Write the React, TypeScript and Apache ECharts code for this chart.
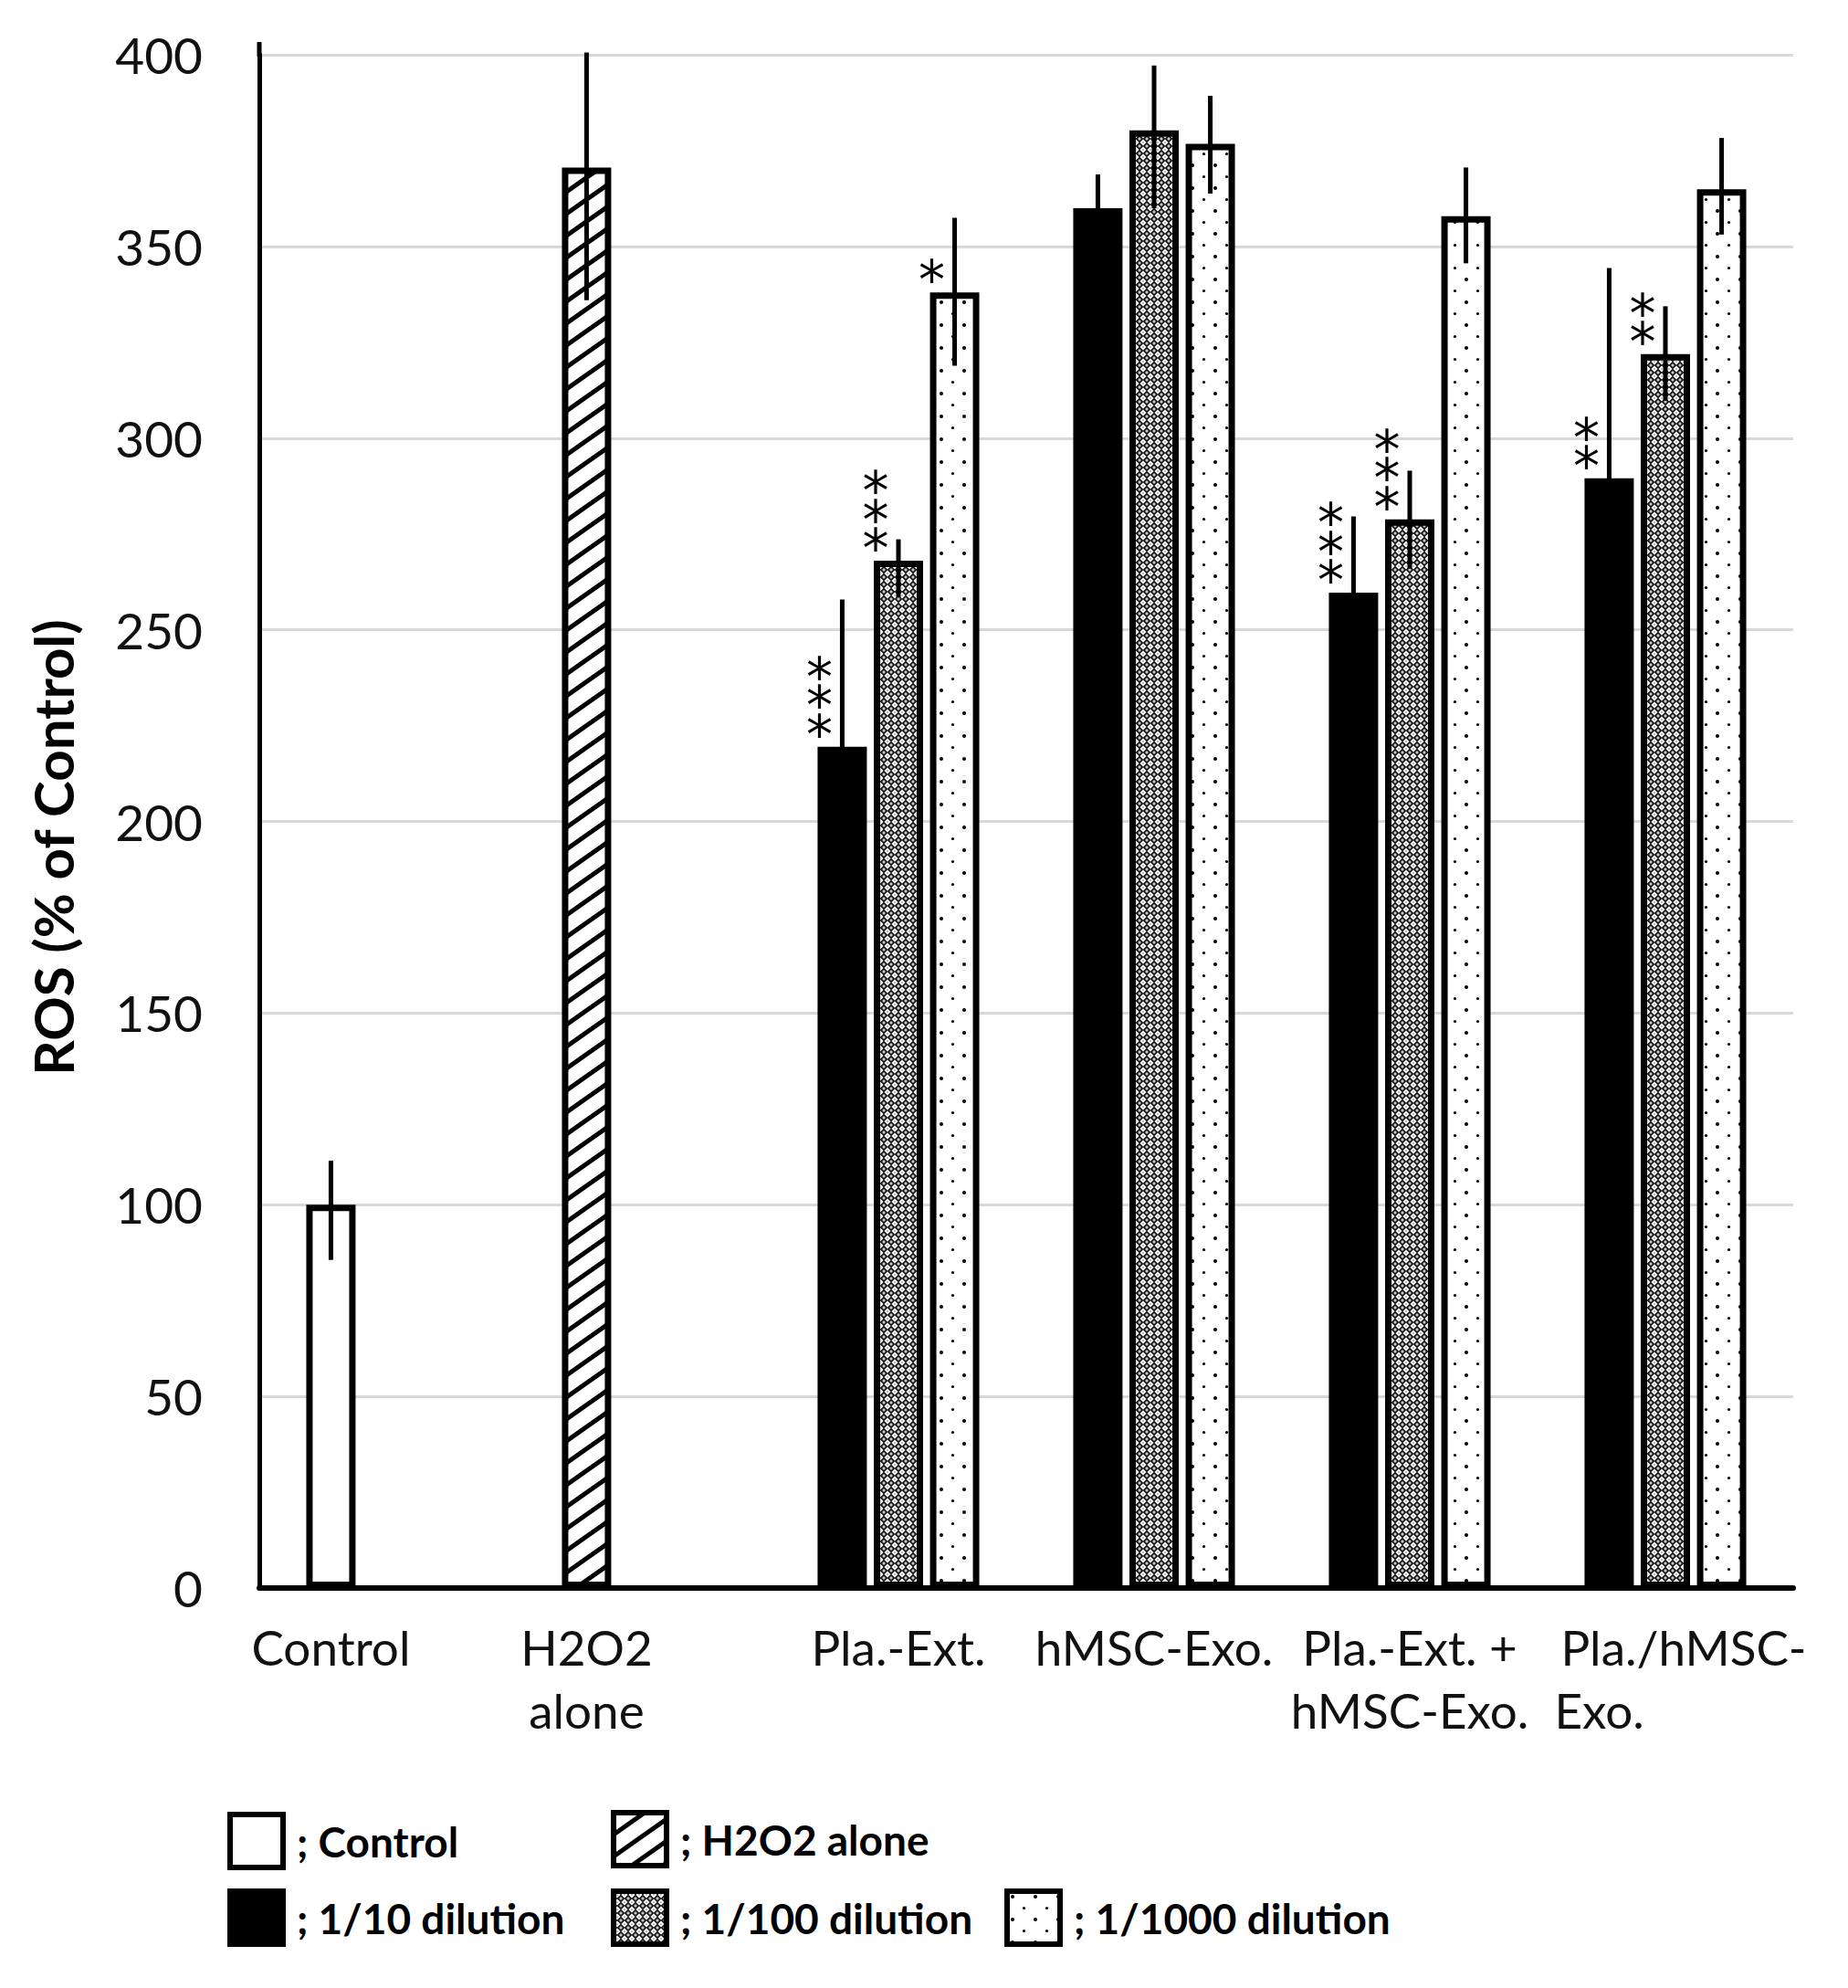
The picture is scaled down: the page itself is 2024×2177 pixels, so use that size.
import React, { useEffect, useRef } from 'react';
import * as echarts from 'echarts';

// ---------- data ----------
const categories = ['Control', 'H2O2\nalone', 'Pla.-Ext.', 'hMSC-Exo.', 'Pla.-Ext. +\nhMSC-Exo.', 'Pla./hMSC-\nExo.'];
const seriesNames = ['Control', 'H2O2 alone', '1/10 dilution', '1/100 dilution', '1/1000 dilution'];

const controlValues = [100, null, null, null, null, null];
const h2o2Values = [null, 370.6, null, null, null, null];
const dil10Values = [null, null, 219.5, 360, 259.7, 289.5];
const dil100Values = [null, null, 268, 380.3, 278.8, 321.9];
const dil1000Values = [null, null, 338, 376.8, 357.9, 364.9];

const controlErrHigh = [111.5, null, null, null, null, null];
const controlErrLow = [85.6, null, null, null, null, null];
const h2o2ErrHigh = [null, 400.6, null, null, null, null];
const h2o2ErrLow = [null, 336, null, null, null, null];
const dil10ErrHigh = [null, null, 257.9, 368.8, 279.6, 344.4];
const dil10ErrLow = [null, null, 181.1, 351.2, 239.8, 234.6];
const dil100ErrHigh = [null, null, 273.6, 397.2, 291.5, 334.4];
const dil100ErrLow = [null, null, 258.5, 359.9, 266, 309.8];
const dil1000ErrHigh = [null, null, 357.5, 389.3, 370.6, 378.3];
const dil1000ErrLow = [null, null, 318.9, 363.8, 345.6, 353.1];

const dil10Marks = ['', '', '***', '', '***', '**'];
const dil100Marks = ['', '', '***', '', '***', '**'];
const dil1000Marks = ['', '', '*', '', '', ''];

const yMin = 0;
const yMax = 400;
const yInterval = 50;

// ---------- style constants ----------
const FONT = 'Lato';
const BAR_W = 54;
const BAR_GAP = 0.14;
const PITCH = BAR_W * (1 + BAR_GAP);
const BORDER = 7;

function makeCanvas(w: number, h: number, draw: (ctx: CanvasRenderingContext2D) => void) {
  const c = document.createElement('canvas');
  c.width = w;
  c.height = h;
  const ctx = c.getContext('2d') as CanvasRenderingContext2D;
  draw(ctx);
  return c;
}

function hatchPattern() {
  const w = 34, h = 24;
  const c = makeCanvas(w, h, (ctx) => {
    ctx.fillStyle = '#fff';
    ctx.fillRect(0, 0, w, h);
    ctx.strokeStyle = '#000';
    ctx.lineWidth = 5;
    for (let k = -1; k <= 1; k++) {
      ctx.beginPath();
      ctx.moveTo(-w, (1 + k) * h + h);
      ctx.lineTo(2 * w, (1 + k) * h - 2 * h);
      ctx.stroke();
    }
  });
  return { image: c, repeat: 'repeat', imageWidth: w, imageHeight: h } as any;
}

function crossPattern() {
  const s = 8;
  const c = makeCanvas(s, s, (ctx) => {
    ctx.fillStyle = '#1a1a1a';
    ctx.fillRect(0, 0, s, s);
    ctx.fillStyle = '#fff';
    // white diamond in the middle
    ctx.beginPath();
    ctx.moveTo(4, 0.5);
    ctx.lineTo(7.5, 4);
    ctx.lineTo(4, 7.5);
    ctx.lineTo(0.5, 4);
    ctx.closePath();
    ctx.fill();
    // small dark centre
    ctx.fillStyle = '#000';
    ctx.fillRect(3.5, 3.5, 1.0, 1.0);
    // white plus at the corners
    ctx.fillStyle = '#fff';
    const arm = 1.7, t = 0.5;
    [[0, 0], [s, 0], [0, s], [s, s]].forEach(([cx, cy]) => {
      ctx.fillRect(cx - arm, cy - t, arm * 2, t * 2);
      ctx.fillRect(cx - t, cy - arm, t * 2, arm * 2);
    });
  });
  return { image: c, repeat: 'repeat', imageWidth: s, imageHeight: s } as any;
}

function dotPattern() {
  const w = 25, h = 25;
  const c = makeCanvas(w, h, (ctx) => {
    ctx.fillStyle = '#fff';
    ctx.fillRect(0, 0, w, h);
    ctx.fillStyle = '#000';
    ctx.beginPath();
    ctx.arc(6, 6, 2, 0, Math.PI * 2);
    ctx.fill();
    ctx.beginPath();
    ctx.arc(18.5, 18.5, 1.6, 0, Math.PI * 2);
    ctx.fill();
  });
  return { image: c, repeat: 'repeat', imageWidth: w, imageHeight: h } as any;
}

function starLabel(marks: string[]) {
  return {
    show: true,
    position: 'top',
    distance: 0,
    offset: [-25, 3],
    fontFamily: 'DejaVu Sans',
    fontSize: 58,
    lineHeight: 31.5,
    color: '#000',
    align: 'center',
    formatter: (p: any) => (marks[p.dataIndex] || '').split('').join('\n'),
  };
}

export default function App() {
  const ref = useRef<HTMLDivElement>(null);

  useEffect(() => {
    if (!ref.current) return;
    const chart = echarts.init(ref.current, null, { renderer: 'svg' });

    const fills = {
      control: '#fff',
      h2o2: hatchPattern(),
      d10: '#000',
      d100: crossPattern(),
      d1000: dotPattern(),
    };

    const barBase = (name: string, data: any[], color: any, stack?: string) => ({
      name,
      type: 'bar',
      data,
      stack,
      barWidth: BAR_W,
      barGap: `${BAR_GAP * 100}%`,
      itemStyle: { color, borderColor: '#000', borderWidth: BORDER },
      z: 2,
    });

    const errGroups = [
      { hi: controlErrHigh, lo: controlErrLow, slot: -1 },
      { hi: h2o2ErrHigh, lo: h2o2ErrLow, slot: -1 },
      { hi: dil10ErrHigh, lo: dil10ErrLow, slot: -1 },
      { hi: dil100ErrHigh, lo: dil100ErrLow, slot: 0 },
      { hi: dil1000ErrHigh, lo: dil1000ErrLow, slot: 1 },
    ];
    const errData: number[][] = [];
    errGroups.forEach((g) => {
      g.hi.forEach((h, i) => {
        if (h != null && g.lo[i] != null) errData.push([i, g.lo[i] as number, h as number, g.slot]);
      });
    });

    const legendBase = {
      orient: 'horizontal',
      icon: 'rect',
      itemWidth: 58,
      itemHeight: 58,
      padding: 0,
      selectedMode: false,
      itemStyle: { borderColor: '#000', borderWidth: 6 },
      textStyle: { fontFamily: FONT, fontWeight: 'bold', fontSize: 46, color: '#000', padding: [0, 0, 0, 10] },
      formatter: (n: string) => '; ' + n,
    };

    const labelColor = '#111';
    const option: any = {
      animation: false,
      backgroundColor: '#fff',
      grid: { left: 284, right: 60, top: 60, height: 1679, containLabel: false },
      xAxis: {
        type: 'category',
        data: categories,
        axisLine: { show: true, lineStyle: { color: '#000', width: 6 } },
        axisTick: { show: false },
        axisLabel: {
          interval: 0,
          margin: 30,
          fontFamily: FONT,
          fontSize: 53,
          lineHeight: 69,
          color: labelColor,
          formatter: (v: string, i: number) => {
            if (i === 0 || i === 1) return v.split('\n').map((l) => `{s|${l}}`).join('\n');
            if (i === 5) {
              const [a, b] = v.split('\n');
              return `{a|${a}}\n{b|${b}}`;
            }
            return v;
          },
          rich: {
            s: { fontFamily: FONT, fontSize: 53, lineHeight: 69, color: labelColor, padding: [0, PITCH * 2, 0, 0] },
            a: { fontFamily: FONT, fontSize: 53, lineHeight: 69, color: labelColor, padding: [0, 0, 0, 40] },
            b: { fontFamily: FONT, fontSize: 53, lineHeight: 69, color: labelColor, align: 'left', padding: [0, 0, 0, 33] },
          },
        },
        splitLine: { show: false },
      },
      yAxis: {
        type: 'value',
        min: yMin,
        max: yMax,
        interval: yInterval,
        axisLine: { show: true, lineStyle: { color: '#000', width: 5 } },
        axisTick: { show: false },
        axisLabel: { margin: 62, fontFamily: FONT, fontSize: 55, color: labelColor },
        splitLine: { show: true, lineStyle: { color: '#d9d9d9', width: 3 } },
      },
      legend: [
        { ...legendBase, data: [seriesNames[0]], left: 249, top: 1984 },
        { ...legendBase, data: [seriesNames[1]], left: 669, top: 1982 },
        { ...legendBase, data: [seriesNames[2]], left: 249, top: 2068 },
        { ...legendBase, data: [seriesNames[3]], left: 669, top: 2068 },
        { ...legendBase, data: [seriesNames[4]], left: 1100, top: 2068 },
      ],
      graphic: [
        {
          type: 'text',
          x: 58,
          y: 928,
          rotation: Math.PI / 2,
          style: {
            text: 'ROS (% of Control)',
            fontFamily: FONT,
            fontWeight: 'bold',
            fontSize: 60,
            fill: '#000',
            align: 'center',
            verticalAlign: 'middle',
          },
        },
        { type: 'line', shape: { x1: 284, y1: 46, x2: 284, y2: 62 }, style: { stroke: '#000', lineWidth: 5 } },
      ],
      series: [
        barBase(seriesNames[0], controlValues, fills.control, 'first'),
        barBase(seriesNames[1], h2o2Values, fills.h2o2, 'first'),
        { ...barBase(seriesNames[2], dil10Values, fills.d10, 'first'), label: starLabel(dil10Marks) },
        { ...barBase(seriesNames[3], dil100Values, fills.d100), label: starLabel(dil100Marks) },
        { ...barBase(seriesNames[4], dil1000Values, fills.d1000), label: starLabel(dil1000Marks) },
        {
          name: 'error',
          type: 'custom',
          data: errData,
          z: 5,
          silent: true,
          encode: { x: 0, y: [1, 2] },
          renderItem: (params: any, api: any) => {
            const ci = api.value(0);
            const lo = api.coord([ci, api.value(1)]);
            const hi = api.coord([ci, api.value(2)]);
            const x = lo[0] + api.value(3) * PITCH;
            return {
              type: 'line',
              shape: { x1: x, y1: lo[1], x2: x, y2: hi[1] },
              style: { stroke: '#000', lineWidth: 5 },
            };
          },
        },
      ],
    };

    chart.setOption(option);
    return () => chart.dispose();
  }, []);

  return (
    <div
      ref={ref}
      style={{ position: 'absolute', left: 0, top: 0, width: 2024, height: 2177, background: '#fff' }}
    />
  );
}
